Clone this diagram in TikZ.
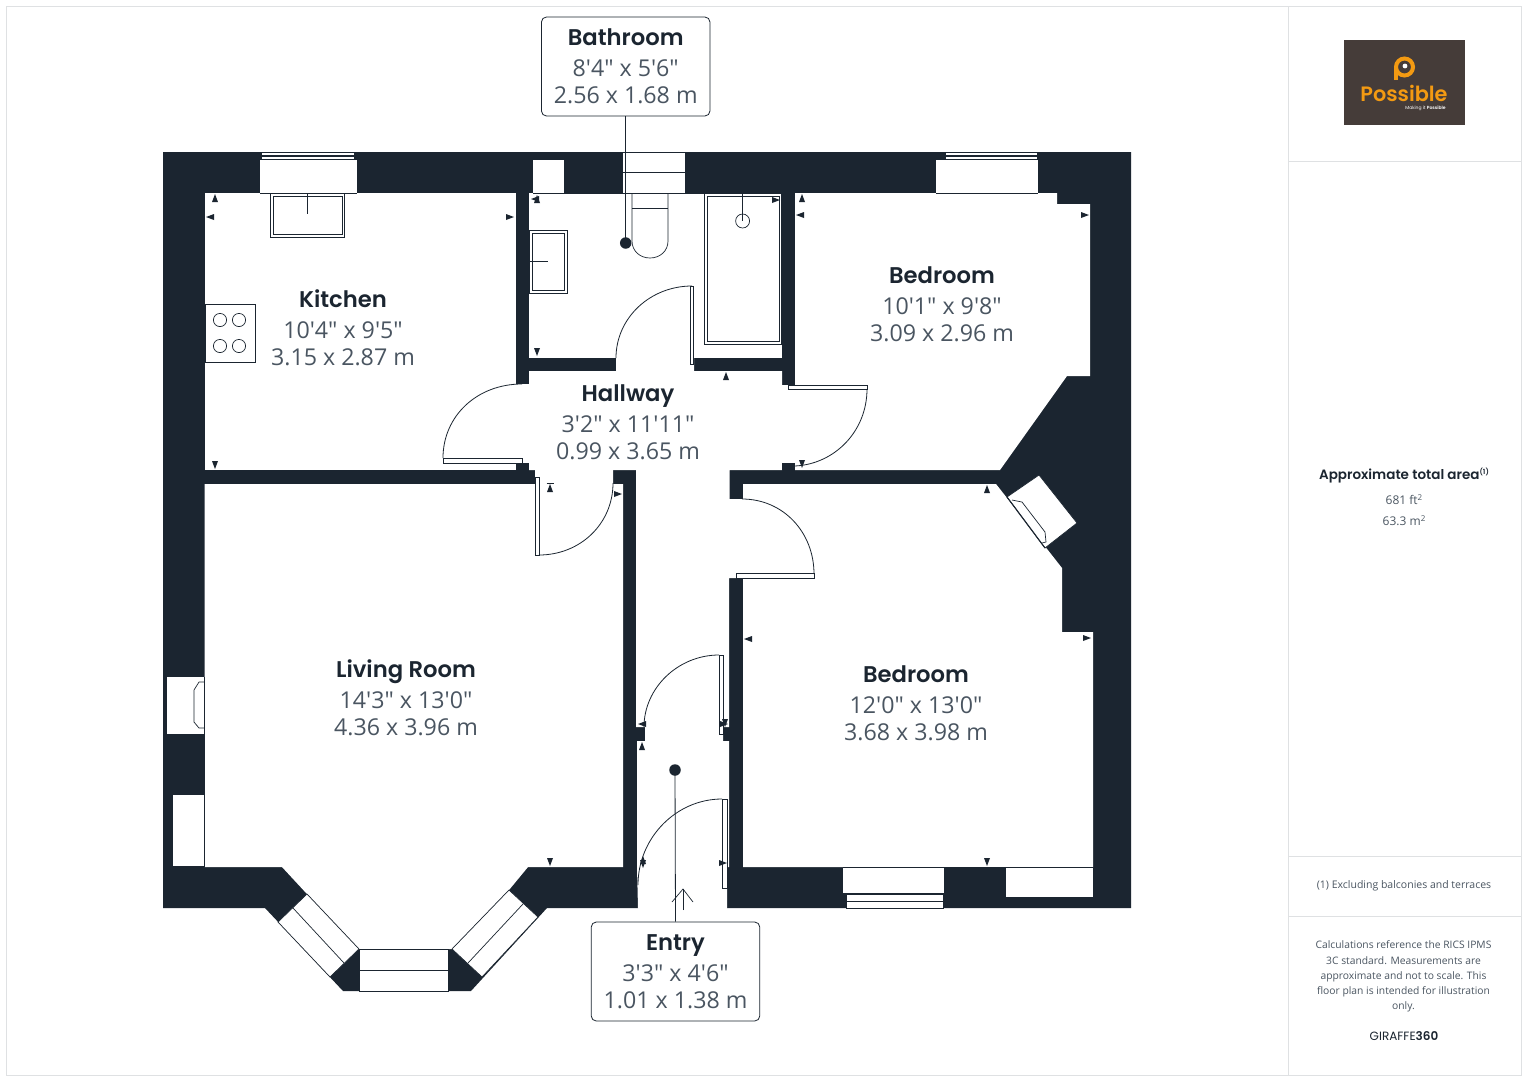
\documentclass[tikz,border=0pt]{standalone}
\usepackage{fontspec}
\setmainfont{Open Sans}[Ligatures=TeXOff]
\newfontfamily\titlefont{Poppins}[BoldFont={Poppins SemiBold}]
\definecolor{wall}{HTML}{1B2530}
\definecolor{dimtxt}{HTML}{4A5561}
\definecolor{frameline}{HTML}{DFE1E3}
\definecolor{logobg}{HTML}{453C39}
\definecolor{logoor}{HTML}{F39A12}
\newcommand{\mk}[3]{\fill[wall,shift={(#1,#2)},rotate=#3] (-4,-3) -- (4,0) -- (-4,3) -- cycle;}
\tikzset{
  x=1pt,y=-1pt,
  wallfill/.style={fill=wall,draw=none},
  room/.style={fill=white,draw=none},
  thin line/.style={draw=wall,line width=0.7pt},
  fixture/.style={draw=wall,fill=white,line width=0.7pt},
  panel/.style={draw=wall,fill=white,line width=0.7pt},
  swing/.style={draw=wall,line width=0.8pt},
  label box/.style={draw=wall,fill=white,rounded corners=5pt,line width=0.8pt,minimum width=168.5pt,minimum height=99pt,inner sep=0pt,align=center,text=dimtxt,font=\fontsize{23.2}{27}\selectfont},
  room label/.style={align=center,inner sep=0pt,text=dimtxt,font=\fontsize{23.2}{27}\selectfont},
  leader/.style={draw=wall,line width=0.8pt},
  dot/.style={circle,fill=wall,minimum size=11.5pt,inner sep=0pt},
  side/.style={align=center,inner sep=0pt,text=dimtxt,font=\fontsize{12}{15}\selectfont},
  frame/.style={draw=frameline,line width=1pt}
}
\newcommand{\rl}[3]{{\fontsize{22.7}{27}\selectfont\titlefont\bfseries\color{wall}#1}\\[4pt]#2\\#3}
\begin{document}
\begin{tikzpicture}
\useasboundingbox (0,0) rectangle (1527,1080);
\fill[white] (0,0) rectangle (1527,1080);
% frame
\draw[frame] (6,6) rectangle (1521,1075);
\draw[frame] (1288,6) -- (1288,1075);
\draw[frame] (1288,161) -- (1521,161);
\draw[frame] (1288,856) -- (1521,856);
\draw[frame] (1288,916) -- (1521,916);
% outer mass
\fill[wallfill] (163,152) -- (1131,152) -- (1131,908) -- (727,908) -- (727,905) -- (638,905) -- (638,908) -- (547,908) -- (471,991) -- (343,991) -- (265,908) -- (163,908) -- cycle;
% rooms
\fill[room] (204.5,193) rectangle (516,470);
\fill[room] (204.5,484) -- (535,484) -- (535,470) -- (613,470) -- (613,484) -- (623,484) -- (623,867) -- (528,867) -- (509,890) -- (452,949) -- (359,949) -- (307,894) -- (282,867) -- (204.5,867) -- cycle;
\fill[room] (529,193) rectangle (782,358);
\fill[room] (795,193) -- (1057,193) -- (1057,204) -- (1090,204) -- (1090,376) -- (1067,376) -- (1000,470) -- (795,470) -- cycle;
\fill[room] (743,484) -- (996,484) -- (1062,568) -- (1062,632) -- (1093,632) -- (1093,867) -- (743,867) -- cycle;
\fill[room] (529,371) -- (616,371) -- (616,358) -- (694,358) -- (694,371) -- (782,371) -- (782,385) -- (795,385) -- (795,463) -- (782,463) -- (782,470) -- (729.5,470) -- (729.5,499) -- (743,499) -- (743,578) -- (729,578) -- (729,727) -- (723,727) -- (723,741) -- (729,741) -- (729,867) -- (727,867) -- (727,908) -- (638,908) -- (637,867) -- (637,741) -- (645,741) -- (645,727) -- (636,727) -- (636,470) -- (535,470) -- (529,470) -- (529,463) -- (516,463) -- (516,384) -- (529,384) -- cycle;
% window recesses
\fill[room] (260,160) rectangle (357,193);
\fill[room] (533,160) rectangle (564,193);
\fill[room] (936,160) rectangle (1038,193);
\fill[room] (843,867) rectangle (944,893);
\fill[room] (1006,867) rectangle (1093,897);
\fill[room] (167,677) rectangle (204.5,734);
\fill[room] (173,795) rectangle (204.5,866);
% top window strips
\draw[panel] (261,152.5) rectangle (354,155.5);
\draw[panel] (261,156) rectangle (354,159);
\draw[panel] (945,152.5) rectangle (1037,155.5);
\draw[panel] (945,156) rectangle (1037,159);
\draw[panel] (622,152) rectangle (685,172);
\draw[panel] (622,172) rectangle (685,193);
\draw[panel] (846,894) rectangle (943,901);
\draw[panel] (846,901) rectangle (943,908);
% hairlines along recess openings
\draw[thin line] (260,193) -- (357,193);
\draw[thin line] (533,193) -- (704,193);
\draw[thin line] (936,193) -- (1038,193);
\draw[thin line] (843,867) -- (1093,867);
\draw[thin line] (204.5,677) -- (204.5,867);
% bay windows
\filldraw[panel] (307,894) -- (359,949) -- (330,977) -- (278,922) -- cycle;
\draw[thin line] (293,908) -- (344,963);
\filldraw[panel] (359,949) rectangle (448,991);
\draw[thin line] (359,970) -- (448,970);
\filldraw[panel] (452,949) -- (509,890) -- (538,917) -- (482,977) -- cycle;
\draw[thin line] (523,904) -- (468,963);
% fireplace niche
\filldraw[panel] (1007,497) -- (1039,475) -- (1077,523) -- (1045,548) -- cycle;
\draw[thin line,line width=1.1pt] (1007,497) -- (1045,548);
\draw[thin line] (1012,500) -- (1022,502) -- (1045,532) -- (1046,542) -- (1042,543);
% living-room radiator
\draw[thin line] (204.5,682) -- (199,682) -- (194,690) -- (194,722) -- (199,728) -- (204.5,728);
% kitchen fixtures
\draw[fixture] (270,193) rectangle (344,237);
\draw[thin line] (273,196) rectangle (342,234);
\draw[thin line] (307,193) -- (307,214);
\draw[fixture] (205,304) rectangle (255,362);
\foreach \cx/\cy in {220/320,239/320,220/346,239/346} \draw[thin line] (\cx,\cy) circle[radius=6.6];
% bathroom fixtures
\draw[fixture] (704,193.5) rectangle (781,344);
\draw[thin line] (707,196) rectangle (779,341);
\draw[thin line] (742.6,193.5) -- (742.6,221);
\draw[thin line] (742.6,221) circle[radius=7];
\draw[fixture] (632,193.5) -- (668,193.5) -- (668,241) .. controls (668,251) and (660,258) .. (650,258) .. controls (640,258) and (632,251) .. (632,241) -- cycle;
\draw[thin line] (632,208) -- (668,208);
\draw[fixture] (529,230) rectangle (567,293);
\draw[thin line] (532,233) rectangle (564,290);
\draw[thin line] (529,261.5) -- (548,261.5);
% door stubs kept dark
\fill[wallfill] (516,463) rectangle (529,470);
\fill[wallfill] (782,463) rectangle (795,470);
% doors
\draw[panel] (443,458) rectangle (522,463);
\draw[swing] (443,458) .. controls (443,416) and (477,384) .. (522,384);
\draw[panel] (690,286) rectangle (693.5,364);
\draw[swing] (616,358) .. controls (616,318) and (650,286) .. (692,286);
\draw[panel] (788,385.5) rectangle (867,389.5);
\draw[swing] (867,389) .. controls (867,431) and (835,464) .. (795,466);
\draw[panel] (736,573.5) rectangle (814,578);
\draw[swing] (742,499) .. controls (783,499) and (814,532) .. (814,574);
\draw[panel] (535,477) rectangle (539,555);
\draw[swing] (613,483) .. controls (613,524) and (580,555) .. (539,555);
\draw[panel] (719,655) rectangle (723,734);
\draw[swing] (719,655) .. controls (678,655) and (644,688) .. (644,727);
\draw[panel] (722,799) rectangle (727,888);
\draw[swing] (722,799) .. controls (676,799) and (638,838) .. (638,885);
% dimension markers
\mk{215}{198}{90}\mk{210}{217}{180}\mk{510}{217}{0}\mk{215}{465}{-90}
\mk{535}{199}{180}\mk{537}{199}{90}\mk{537}{352}{-90}\mk{776}{200}{0}
\mk{802}{198}{90}\mk{800}{215}{180}\mk{726}{376}{90}\mk{802}{464}{-90}\mk{1085}{215}{0}
\mk{550}{488}{90}\mk{618}{494}{0}\mk{748}{639}{180}\mk{1087}{638}{0}\mk{987}{489}{90}
\mk{987}{862}{-90}\mk{550}{862}{-90}\mk{642}{746}{90}\mk{642}{724}{180}
\mk{725}{723}{-90}\mk{724}{724}{0}\mk{643}{860}{90}\mk{643}{864}{-90}\mk{723}{863}{0}
\draw[thin line] (546.5,483) -- (553.5,483);
% entry arrow
\draw[thin line] (683,910) -- (683,889);
\draw[thin line] (672,902) -- (683,889) -- (693,902);
% room labels
\node[room label] (kitchen) at (343,328) {\rl{Kitchen}{10'4" x 9'5"}{3.15 x 2.87 m}};
\node[room label] (hallway) at (628,422.5) {\rl{Hallway}{3'2" x 11'11"}{0.99 x 3.65 m}};
\node[room label] (bedroomA) at (942,304) {\rl{Bedroom}{10'1" x 9'8"}{3.09 x 2.96 m}};
\node[room label] (living) at (406,698) {\rl{Living Room}{14'3" x 13'0"}{4.36 x 3.96 m}};
\node[room label] (bedroomB) at (916,703) {\rl{Bedroom}{12'0" x 13'0"}{3.68 x 3.98 m}};
% callouts
\coordinate (bathdot) at (625.7,243);
\coordinate (entrydot) at (675,770);
\node[label box] (bathbox) at (625.7,66.5) {\rl{Bathroom}{8'4" x 5'6"}{2.56 x 1.68 m}};
\node[label box] (entrybox) at (675.5,971.5) {\rl{Entry}{3'3" x 4'6"}{1.01 x 1.38 m}};
\draw[leader] (bathbox.south) -- (bathdot);
\draw[leader] (entrydot) -- (entrybox.north);
\node[dot] (d1) at (bathdot) {};
\node[dot] (d2) at (entrydot) {};
% logo
\fill[logobg] (1344,40) rectangle (1465,125);
\draw[logoor,line width=4pt] (1404.5,67) circle[radius=8.5];
\draw[logoor,line width=4pt] (1396,66) -- (1396,80);
\fill[white] (1405,66) circle[radius=2.4];
\node[inner sep=0pt,text=logoor] (logoname) at (1404,93) {\fontsize{20.8}{21}\selectfont\titlefont\bfseries Possible};
\node[inner sep=0pt,text=white] (logotag) at (1425.5,108) {\fontsize{4.5}{5}\selectfont\titlefont Making it \bfseries Possible};
% side panel
\node[inner sep=0pt,text=wall] (areatitle) at (1404,475.5) {\fontsize{13.5}{16}\selectfont\titlefont\bfseries Approximate total area\raisebox{5pt}{\fontsize{7}{7}\selectfont(1)}};
\node[side] (areaft) at (1404,500) {681 ft\raisebox{4pt}{\fontsize{8}{8}\selectfont 2}};
\node[side] (aream) at (1404,521) {63.3 m\raisebox{4pt}{\fontsize{8}{8}\selectfont 2}};
\node[side,font=\fontsize{10.5}{15}\selectfont] (note) at (1404,885.5) {(1) Excluding balconies and terraces};
\node[side,font=\fontsize{10.3}{15.2}\selectfont] (calc) at (1403.5,976.5) {Calculations reference the RICS IPMS\\3C standard. Measurements are\\approximate and not to scale. This\\floor plan is intended for illustration\\only.};
\node[inner sep=0pt,text=wall] (brand) at (1404,1036) {\fontsize{12}{14}\selectfont\titlefont GIRAFFE\bfseries 360};
\end{tikzpicture}
\end{document}
